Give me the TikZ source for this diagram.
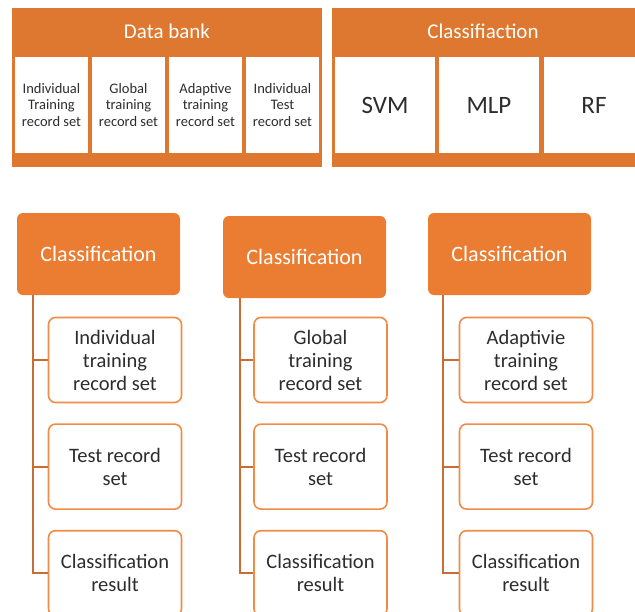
\documentclass[tikz,border=0pt]{standalone}
\usepackage{fontspec}
\setmainfont{Carlito}
\usetikzlibrary{positioning}

\definecolor{bankorange}{RGB}{222,119,47}
\definecolor{headorange}{RGB}{234,125,50}
\definecolor{lineorange}{RGB}{200,110,52}
\definecolor{boxorange}{RGB}{240,140,72}
\definecolor{txtgray}{RGB}{45,45,45}

\begin{document}
\begin{tikzpicture}[
    x=1pt, y=-1pt,
    node distance=20pt,
    paneltitle/.style={text=white, font=\fontsize{21}{24}\selectfont},
    bankcell/.style={rectangle, fill=white, minimum width=73.5pt, minimum height=96pt, inner sep=1pt, align=center, text=txtgray, font=\fontsize{14.5}{16.5}\selectfont},
    clfcell/.style={rectangle, fill=white, minimum width=100pt, minimum height=96pt, inner sep=1pt, text=txtgray, font=\fontsize{25}{28}\selectfont},
    head/.style={rectangle, rounded corners=6pt, fill=headorange, minimum width=163pt, minimum height=82pt, text=white, font=\fontsize{22}{25}\selectfont},
    child/.style={rectangle, rounded corners=7pt, draw=boxorange, line width=1.6pt, fill=white, minimum width=133pt, minimum height=85pt, inner sep=1pt, align=center, text=txtgray, font=\fontsize{20.5}{23}\selectfont},
    tree/.style={draw=lineorange, line width=1.8pt}
]
\useasboundingbox (0,0) rectangle (635,611);

% data bank panel
\fill[bankorange] (12,8) rectangle (322,167);
\node[paneltitle] (bank) at (167,31) {Data bank};
\node[bankcell] (bindiv) at (51.5,105) {Individual\\Training\\record set};
\node[bankcell] (bglob) at (128.5,105) {Global\\training\\record set};
\node[bankcell] (badapt) at (205.5,105) {Adaptive\\training\\record set};
\node[bankcell] (btest) at (282.5,105) {Individual\\Test\\record set};

% classifier panel
\fill[bankorange] (332,8) rectangle (635,167);
\node[paneltitle] (clf) at (483,31) {Classifiaction};
\node[clfcell] (svm) at (385,105) {SVM};
\node[clfcell] (mlp) at (489,105) {MLP};
\node[clfcell] (rf) at (594,105) {RF};

% individual column
\node[head] (head1) at (98.5,254) {Classification};
\node[child] (ind1) at (115,360) {Individual\\training\\record set};
\node[child, below=of ind1] (test1) {Test record\\set};
\node[child, below=of test1] (res1) {Classification\\result};

% global column
\node[head] (head2) at (304.5,257) {Classification};
\node[child] (glob2) at (320.5,360) {Global\\training\\record set};
\node[child, below=of glob2] (test2) {Test record\\set};
\node[child, below=of test2] (res2) {Classification\\result};

% adaptive column
\node[head] (head3) at (509.5,254) {Classification};
\node[child] (adapt3) at (526,360) {Adaptivie\\training\\record set};
\node[child, below=of adapt3] (test3) {Test record\\set};
\node[child, below=of test3] (res3) {Classification\\result};

\draw[tree] ([xshift=16pt]head1.south west) |- (ind1.west);
\draw[tree] ([xshift=16pt]head1.south west) |- (test1.west);
\draw[tree] ([xshift=16pt]head1.south west) |- (res1.west);
\draw[tree] ([xshift=17pt]head2.south west) |- (glob2.west);
\draw[tree] ([xshift=17pt]head2.south west) |- (test2.west);
\draw[tree] ([xshift=17pt]head2.south west) |- (res2.west);
\draw[tree] ([xshift=15pt]head3.south west) |- (adapt3.west);
\draw[tree] ([xshift=15pt]head3.south west) |- (test3.west);
\draw[tree] ([xshift=15pt]head3.south west) |- (res3.west);
\end{tikzpicture}
\end{document}
